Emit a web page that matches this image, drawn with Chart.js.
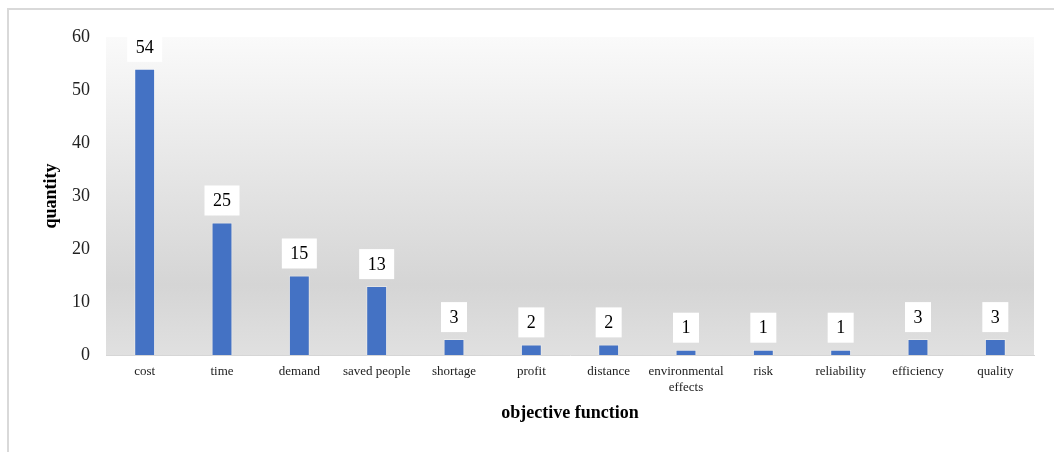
<!doctype html>
<html>

<head>
    <meta charset="utf-8" />
    <title>Objective functions</title>
    <style>
        html,
        body {
            margin: 0px;
            padding: 0px;
            background-color: #ffffff;
        }

        .frame {
            position: absolute;
            left: 7px;
            top: 8px;
            right: 0px;
            bottom: 0px;
            border-top: 2px solid #d9d9d9;
            border-left: 2px solid #d9d9d9;
        }

        .chart {
            position: relative;
            width: 1054px;
            height: 452px;
        }
    </style>
</head>

<body>

    <div class="frame"></div>
    <div class="chart">
        <canvas id="chart_objectives"></canvas>
    </div>

    <script src="https://cdn.jsdelivr.net/npm/chart.js@4.4.0/dist/chart.umd.min.js"></script>

    <script>

        var categories = ["cost", "time", "demand", "saved people", "shortage", "profit", "distance",
            ["environmental", "effects"], "risk", "reliability", "efficiency", "quality"];
        var quantities = [54, 25, 15, 13, 3, 2, 2, 1, 1, 1, 3, 3];
        var yTicks = [0, 10, 20, 30, 40, 50, 60];

        var serif = "'Liberation Serif', 'Times New Roman', serif";

        // gray gradient behind the bars
        var plotBackground = {
            id: 'plotBackground',
            beforeDraw: function (chart) {
                var ctx = chart.ctx;
                var area = chart.chartArea;
                var grad = ctx.createLinearGradient(0, area.top, 0, area.bottom);
                grad.addColorStop(0, '#fafafa');
                grad.addColorStop(0.78, '#d5d5d5');
                grad.addColorStop(1, '#e0e0e0');
                ctx.save();
                ctx.fillStyle = grad;
                ctx.fillRect(area.left, area.top, area.right - area.left, area.bottom - area.top);
                ctx.restore();
            }
        };

        // value labels in white boxes above each bar
        var valueBoxes = {
            id: 'valueBoxes',
            afterDatasetsDraw: function (chart) {
                var ctx = chart.ctx;
                var area = chart.chartArea;
                var meta = chart.getDatasetMeta(0);
                ctx.save();
                ctx.beginPath();
                ctx.rect(area.left, area.top, area.right - area.left, area.bottom - area.top);
                ctx.clip();
                ctx.font = "18px " + serif;
                ctx.textAlign = 'center';
                ctx.textBaseline = 'middle';
                meta.data.forEach(function (bar, i) {
                    var text = String(quantities[i]);
                    var w = ctx.measureText(text).width + 17;
                    var h = 30;
                    var bottom = bar.y - 7;
                    ctx.fillStyle = '#ffffff';
                    ctx.fillRect(bar.x - w / 2, bottom - h, w, h);
                    ctx.fillStyle = '#000000';
                    ctx.fillText(text, bar.x, bottom - h / 2 + 1);
                });
                ctx.restore();
            }
        };

        var ctx = document.getElementById('chart_objectives').getContext('2d');
        var chart = new Chart(ctx, {
            type: 'bar',
            data: {
                labels: categories,
                datasets: [
                    {
                        label: 'quantity',
                        data: quantities,
                        backgroundColor: '#4472c4',
                        borderColor: 'rgba(255,255,255,0.35)',
                        borderWidth: 1,
                        barPercentage: 0.27,
                        categoryPercentage: 1
                    }
                ]
            },
            plugins: [plotBackground, valueBoxes],
            options: {
                animation: false,
                responsive: true,
                maintainAspectRatio: false,
                layout: {
                    padding: { top: 37, right: 20, bottom: 24, left: 0 }
                },
                plugins: {
                    legend: { display: false },
                    tooltip: { enabled: false }
                },
                scales: {
                    x: {
                        grid: { display: false, drawTicks: false },
                        border: { display: true, color: '#d6d6d6', width: 1 },
                        ticks: {
                            padding: 9,
                            maxRotation: 0,
                            autoSkip: false,
                            color: '#222222',
                            font: { family: serif, size: 13, lineHeight: 1.23 }
                        },
                        title: {
                            display: true,
                            text: 'objective function',
                            color: '#000000',
                            padding: { top: 4, bottom: 4 },
                            font: { family: serif, size: 18, weight: 'bold' }
                        },
                        afterFit: function (scale) { scale.height = 73; }
                    },
                    y: {
                        min: 0,
                        max: 60,
                        grid: { display: false, drawTicks: false },
                        border: { display: false },
                        afterBuildTicks: function (scale) {
                            scale.ticks = yTicks.map(function (v) { return { value: v }; });
                        },
                        ticks: {
                            padding: 16,
                            color: '#222222',
                            font: { family: serif, size: 18 }
                        },
                        title: {
                            display: true,
                            text: 'quantity',
                            color: '#000000',
                            padding: { top: 41, bottom: 0 },
                            font: { family: serif, size: 18, weight: 'bold' }
                        },
                        afterFit: function (scale) { scale.width = 106; }
                    }
                }
            }
        });

    </script>

</body>

</html>
